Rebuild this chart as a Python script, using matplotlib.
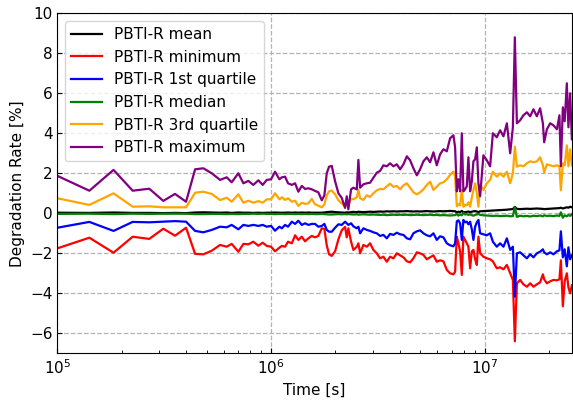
import numpy as np
import matplotlib
matplotlib.use("Agg")
import matplotlib.pyplot as plt

# sample times [s]
time_s = [
    1.00e5, 1.41e5, 1.83e5, 2.25e5, 2.69e5, 3.13e5, 3.55e5, 4.00e5,
    4.41e5, 4.82e5, 5.28e5, 5.77e5, 6.20e5, 6.54e5, 7.03e5, 7.42e5,
    7.83e5, 8.26e5, 8.72e5, 9.14e5, 9.55e5, 1.000e6, 1.044e6, 1.094e6,
    1.124e6, 1.163e6, 1.201e6, 1.251e6, 1.296e6, 1.342e6, 1.393e6, 1.443e6,
    1.496e6, 1.551e6, 1.607e6, 1.665e6, 1.728e6, 1.777e6, 1.823e6, 1.869e6,
    1.924e6, 1.995e6, 2.067e6, 2.143e6, 2.221e6, 2.262e6, 2.301e6, 2.370e6,
    2.429e6, 2.521e6, 2.564e6, 2.612e6, 2.706e6, 2.807e6, 2.909e6, 3.014e6,
    3.126e6, 3.240e6, 3.358e6, 3.483e6, 3.609e6, 3.741e6, 3.880e6, 4.021e6,
    4.167e6, 4.323e6, 4.479e6, 4.641e6, 4.814e6, 4.988e6, 5.169e6, 5.361e6,
    5.556e6, 5.757e6, 5.971e6, 6.187e6, 6.412e6, 6.651e6, 6.892e6, 7.142e6,
    7.274e6, 7.409e6, 7.538e6, 7.677e6, 7.819e6, 7.955e6, 8.102e6, 8.252e6,
    8.396e6, 8.552e6, 8.711e6, 8.862e6, 9.027e6, 9.193e6, 9.352e6, 9.526e6,
    9.869e6, 1.024e7, 1.061e7, 1.093e7, 1.140e7, 1.182e7, 1.225e7, 1.271e7,
    1.317e7, 1.356e7, 1.385e7, 1.416e7, 1.466e7, 1.519e7, 1.577e7, 1.634e7,
    1.693e7, 1.756e7, 1.819e7, 1.874e7, 1.900e7, 1.957e7, 2.027e7, 2.100e7,
    2.180e7, 2.240e7, 2.275e7, 2.324e7, 2.370e7, 2.426e7, 2.468e7, 2.514e7,
    2.561e7,
]

# degradation rate statistics [%]
rate_mean = [
    0.03, 0.02, 0.04, 0.02, 0.02, 0.01, 0.02, 0.01, 0.04, 0.05, 0.04, 0.03,
    0.04, 0.02, 0.04, 0.03, 0.03, 0.02, 0.03, 0.02, 0.03, 0.03, 0.04, 0.03,
    0.03, 0.03, 0.04, 0.03, 0.04, 0.03, 0.04, 0.03, 0.04, 0.03, 0.03, 0.03,
    0.03, 0.04, 0.06, 0.07, 0.08, 0.06, 0.05, 0.04, 0.03, 0.05, 0.04, 0.06,
    0.07, 0.06, 0.08, 0.07, 0.06, 0.07, 0.08, 0.07, 0.08, 0.09, 0.08, 0.10,
    0.09, 0.10, 0.09, 0.10,
    0.10, 0.11, 0.10, 0.09, 0.10, 0.09, 0.10, 0.11, 0.10, 0.09, 0.10, 0.11,
    0.10, 0.11, 0.12, 0.11, 0.10, 0.05, 0.08, 0.06, 0.12, 0.05, 0.06, 0.07,
    0.09, 0.06, 0.08, 0.10, 0.11, 0.09, 0.06, 0.10, 0.11, 0.12, 0.13, 0.14,
    0.15, 0.16, 0.17, 0.18, 0.20, 0.21, 0.32, 0.22, 0.21, 0.22, 0.23, 0.22,
    0.23, 0.24, 0.23, 0.22, 0.21, 0.22, 0.23, 0.24, 0.25, 0.26, 0.28, 0.24,
    0.27, 0.30, 0.28, 0.33, 0.30,
]
rate_min = [
    -1.75, -1.22, -1.97, -1.17, -1.28, -0.77, -1.12, -0.72, -2.03, -2.05,
    -1.87, -1.58, -1.67, -1.53, -1.92, -1.53, -1.55, -1.42, -1.62, -1.47,
    -1.63, -1.67, -1.90, -1.72,
    -1.63, -1.67, -1.42, -1.50, -1.10, -1.33, -1.17, -1.40, -1.25, -1.13,
    -1.20, -1.13, -0.75, -0.78, -1.60, -2.05, -2.13, -1.90, -1.30, -0.85,
    -0.68, -1.20, -0.75, -1.42, -1.83, -1.67, -1.50, -2.00, -1.58, -1.67,
    -1.50, -1.83, -2.00, -2.25, -2.17, -2.42, -2.17, -2.25, -2.00, -2.10,
    -2.20, -2.40, -2.45, -2.25, -1.95, -2.00, -2.08, -2.30, -2.20, -2.10,
    -2.42, -2.35, -2.40, -2.83, -3.00, -3.05, -2.92, -1.17, -1.50, -1.90,
    -3.08, -1.17, -1.33, -1.50, -1.67, -2.75, -1.90, -1.83, -2.30, -2.58,
    -1.17, -2.00, -2.17, -2.25, -2.30, -2.40, -2.75, -2.70, -2.80, -2.58,
    -3.00, -3.33, -6.40, -3.50, -3.33, -3.55, -3.67, -3.50, -3.67, -3.55,
    -3.45, -3.05, -3.30, -3.50, -3.40, -3.33, -3.35, -3.30, -2.35, -4.65,
    -3.40, -3.00, -3.70, -4.00, -3.60,
]
rate_q1 = [
    -0.72, -0.43, -0.88, -0.43, -0.45, -0.42, -0.39, -0.42, -0.88, -0.95,
    -0.83, -0.67, -0.70, -0.58, -0.80, -0.58, -0.63, -0.58, -0.63, -0.58,
    -0.67, -0.63, -0.87, -0.67,
    -0.75, -0.58, -0.67, -0.42, -0.53, -0.37, -0.58, -0.50, -0.58, -0.53,
    -0.53, -0.67, -0.63, -0.53, -0.83, -0.92, -0.92, -0.72, -0.55, -0.58,
    -0.42, -0.50, -0.58, -0.50, -0.65, -0.75, -0.67, -1.00, -0.75, -0.83,
    -0.88, -0.95, -1.00, -1.13, -1.08, -1.25, -1.03, -1.08, -0.97, -1.05,
    -1.08, -1.25, -1.30, -1.00, -0.90, -0.85, -1.00, -1.10, -1.15, -1.00,
    -1.33, -1.15, -1.20, -1.50, -1.60, -1.65, -1.50, -0.40, -0.35, -0.50,
    -1.33, -0.33, -0.45, -0.42, -0.55, -0.42, -0.80, -1.33, -0.67, -0.45,
    -0.33, -1.00, -1.05, -1.10, -1.00, -1.42, -1.67, -1.50, -1.67, -1.25,
    -1.83, -1.67, -4.17, -2.00, -1.95, -2.10, -2.25, -2.05, -2.20, -2.00,
    -1.92, -1.80, -1.95, -2.05, -1.95, -2.05, -1.90, -1.85, -0.90, -2.20,
    -1.80, -2.65, -1.70, -2.30, -2.10,
]
rate_median = [
    -0.03, -0.02, -0.04, -0.02, -0.03, -0.02, -0.02, -0.02, -0.04, -0.04,
    -0.03, -0.03, -0.04, -0.03, -0.04, -0.03, -0.03, -0.02, -0.03, -0.02,
    -0.03, -0.03, -0.04, -0.03,
    -0.03, -0.04, -0.03, -0.03, -0.04, -0.03, -0.04, -0.03, -0.04, -0.03,
    -0.04, -0.04, -0.03, -0.04, -0.05, -0.06, -0.06, -0.05, -0.04, -0.05,
    -0.04, -0.05, -0.04, -0.05, -0.06, -0.05, -0.07, -0.06, -0.05, -0.06,
    -0.07, -0.06, -0.07, -0.08, -0.07, -0.09, -0.08, -0.07, -0.08, -0.07,
    -0.08, -0.07, -0.09, -0.08, -0.07, -0.08, -0.09, -0.08, -0.07, -0.09,
    -0.08, -0.10, -0.09, -0.10, -0.11, -0.10, -0.09, -0.03, -0.12, -0.05,
    -0.10, 0.02, -0.06, -0.04, -0.08, -0.05, -0.09, -0.12, -0.08, -0.06,
    -0.03, -0.08, -0.10, -0.11, -0.12, -0.13, -0.12, -0.14, -0.13, -0.12,
    -0.15, -0.14, 0.30, -0.18, -0.12, -0.15, -0.13, -0.16, -0.12, -0.14,
    -0.11, -0.15, -0.10, -0.13, -0.12, -0.14, -0.11, -0.13, 0.05, -0.22,
    -0.10, -0.15, -0.08, -0.13, -0.05,
]
rate_q3 = [
    0.75, 0.42, 1.00, 0.33, 0.35, 0.30, 0.30, 0.30, 1.03, 1.08, 0.97, 0.66,
    0.78, 0.58, 0.95, 0.53, 0.63, 0.53, 0.61, 0.53, 0.70, 0.70, 1.00, 0.70,
    0.80, 0.67, 0.75, 0.58, 0.63, 0.37, 0.53, 0.47, 0.50, 0.72, 0.45, 0.38,
    0.30, 0.45, 0.90, 1.10, 1.13, 0.95, 0.65, 0.50, 0.33, 0.45, 0.42, 0.72,
    0.70, 0.80, 1.17, 0.75, 0.67, 0.90, 0.82, 1.00, 1.15, 1.22, 1.20, 1.35,
    1.48, 1.32, 1.37, 1.20,
    1.40, 1.50, 1.28, 1.05, 0.95, 1.05, 1.20, 1.42, 1.58, 1.17, 1.33, 1.50,
    1.55, 1.70, 1.92, 2.08, 1.85, 0.35, 0.45, 0.40, 1.17, 0.33, 0.42, 0.40,
    0.55, 0.33, 0.80, 1.17, 1.50, 1.00, 0.33, 1.42, 1.17, 1.50, 1.67, 2.08,
    1.83, 2.00, 1.83, 2.08, 1.50, 2.00, 3.33, 2.33, 2.40, 2.35, 2.50, 2.60,
    2.55, 2.60, 2.80, 2.40, 2.05, 2.45, 2.40, 2.35, 2.40, 2.35, 1.15, 2.50,
    2.40, 3.40, 2.35, 3.20, 2.40,
]
rate_max = [
    1.87, 1.13, 2.17, 1.13, 1.23, 0.62, 0.97, 0.58, 2.20, 2.25, 2.00, 1.67,
    1.80, 1.55, 2.00, 1.50, 1.62, 1.42, 1.65, 1.42, 1.67, 1.70, 2.08, 1.70,
    1.80, 1.83, 1.50, 1.42, 1.50, 1.08, 1.37, 1.22, 1.25, 1.20, 1.12, 1.05,
    0.65, 0.90, 2.00, 2.33, 2.37, 1.60, 1.00, 0.77, 0.27, 0.85, 0.20, 1.20,
    1.28, 1.20, 2.67, 1.28, 1.45, 1.50, 1.53, 1.78, 2.03, 2.12, 2.40, 2.35,
    2.50, 2.35, 2.45, 2.20,
    2.45, 2.85, 2.65, 2.25, 1.90, 2.20, 2.60, 2.80, 2.55, 3.05, 2.40, 2.95,
    3.20, 3.10, 3.75, 3.90, 3.30, 1.10, 1.70, 1.10, 4.00, 1.10, 1.20, 1.35,
    2.80, 1.10, 1.60, 2.60, 2.70, 3.30, 1.50, 0.85, 2.90, 2.65, 2.35, 4.00,
    3.80, 4.15, 3.85, 4.50, 3.00, 4.30, 8.80, 4.50, 4.65, 4.90, 5.05, 4.85,
    5.20, 4.85, 5.25, 4.50, 3.55, 4.20, 4.50, 4.40, 4.20, 4.90, 2.35, 5.30,
    4.60, 6.50, 4.30, 6.00, 3.70,
]

series = [
    ("PBTI-R mean", rate_mean, "black"),
    ("PBTI-R minimum", rate_min, "red"),
    ("PBTI-R 1st quartile", rate_q1, "blue"),
    ("PBTI-R median", rate_median, "green"),
    ("PBTI-R 3rd quartile", rate_q3, "orange"),
    ("PBTI-R maximum", rate_max, "purple"),
]

plt.rcParams["font.size"] = 11

fig = plt.figure(figsize=(5.73, 4.05), dpi=100)
ax = fig.add_axes([0.1003, 0.1276, 0.8977, 0.8396])

t = np.array(time_s)
for name, vals, col in series:
    ax.plot(t, vals, color=col, lw=1.6, label=name)

ax.set_xscale("log")
ax.set_xlim(t[0], t[-1])
ax.set_ylim(-7, 10)
ax.set_yticks([-6, -4, -2, 0, 2, 4, 6, 8, 10])
ax.grid(True, which="major", linestyle="--", color="0.7", lw=0.9)
ax.tick_params(which="both", direction="in")
ax.set_xlabel("Time [s]")
ax.set_ylabel("Degradation Rate [%]")

ax.legend(loc="upper left", fontsize=11)

fig.savefig("out.png", dpi=100)
